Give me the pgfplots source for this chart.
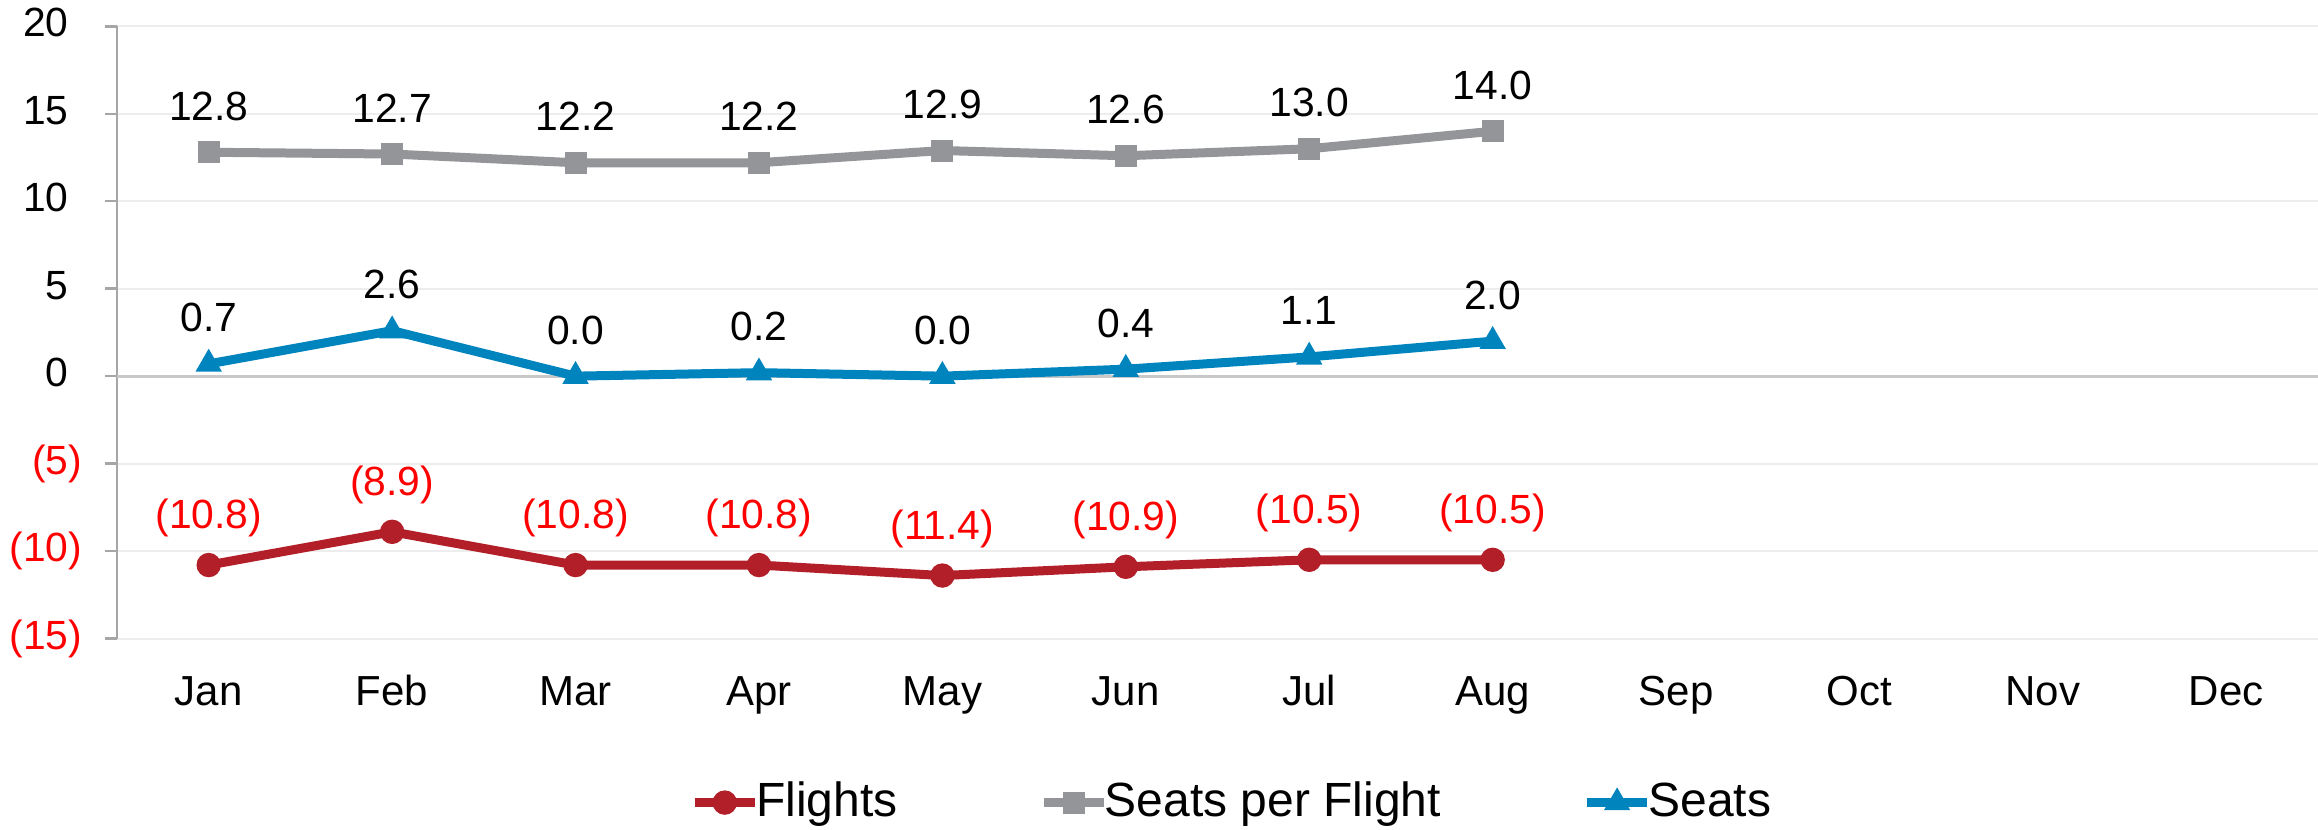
\documentclass[border=0pt]{standalone}
\usepackage{fontspec}
\setmainfont{Liberation Sans}
\usepackage{pgfplots}
\pgfplotsset{compat=1.18}
\definecolor{fl}{HTML}{B21F28}
\definecolor{spf}{HTML}{939598}
\definecolor{st}{HTML}{0084BE}
\definecolor{gridc}{HTML}{EDEDED}
\definecolor{zeroc}{HTML}{C8C8C8}
\definecolor{axc}{HTML}{A6A6A6}
\begin{document}
\begin{tikzpicture}
\useasboundingbox (-29.25pt,-47.625pt) rectangle (550.25pt,159.625pt);
\begin{axis}[
  at={(0pt,0pt)}, anchor=south west,
  scale only axis, width=550.25pt, height=153.05pt,
  xmin=-0.5, xmax=11.5, ymin=-15, ymax=20,
  xtick={0,1,2,3,4,5,6,7,8,9,10,11},
  xticklabels={Jan,Feb,Mar,Apr,May,Jun,Jul,Aug,Sep,Oct,Nov,Dec},
  ytick={-15,-10,-5,0,5,10,15,20},
  yticklabels={\textcolor{red}{(15)},\textcolor{red}{(10)},\textcolor{red}{(5)},0\phantom{)},5\phantom{)},10\phantom{)},15\phantom{)},20\phantom{)}},
  axis x line*=bottom, axis y line*=left,
  axis line style={-},
  x axis line style={draw=none},
  y axis line style={draw=axc, line width=0.6pt},
  ymajorgrids, grid style={draw=gridc, line width=0.5pt},
  tick align=outside, major tick length=3pt,
  ytick style={draw=axc, line width=0.6pt},
  xtick style={draw=none},
  yticklabel style={font=\fontsize{10.2}{12}\selectfont, inner sep=0pt, anchor=east, xshift=-5.5pt},
  xticklabel style={font=\fontsize{10.5}{12}\selectfont, inner sep=0pt, anchor=north, yshift=-5.9pt, text height=7.6pt, text depth=0pt},
  extra y ticks={0}, extra y tick labels={},
  extra y tick style={grid style={draw=zeroc, line width=0.8pt}},
  clip=false,
  legend columns=3,
  legend style={at={(0.506,-0.268)}, anchor=center, draw=none, fill=none,
    font=\fontsize{12}{14}\selectfont,
    /tikz/every even column/.append style={column sep=35.4pt},
    /tikz/every odd column/.append style={column sep=-0.8pt},
    nodes={inner xsep=0pt, inner ysep=0pt}},
  legend image code/.code={\draw[#1, mark repeat=2, mark phase=2] plot coordinates {(0pt,0pt) (7.5pt,0pt) (15pt,0pt)};},
  every node near coord/.style={anchor=base, yshift=8pt, inner sep=0pt, font=\fontsize{10.2}{12}\selectfont, text=black},
]
\addplot[color=fl, line width=2.25pt, mark=*, mark size=2.8pt, mark options={line width=0.5pt},
  nodes near coords, point meta=explicit symbolic,
  every node near coord/.append style={text=red, yshift=1.1pt}]
  coordinates {(0,-10.8) [(10.8)] (1,-8.9) [(8.9)] (2,-10.8) [(10.8)] (3,-10.8) [(10.8)]
               (4,-11.4) [(11.4)] (5,-10.9) [(10.9)] (6,-10.5) [(10.5)] (7,-10.5) [(10.5)]};
\addlegendentry{Flights}
\addplot[color=spf, line width=2.25pt, mark=square*, mark size=2.5pt, mark options={line width=0.5pt},
  nodes near coords, point meta=explicit symbolic]
  coordinates {(0,12.8) [12.8] (1,12.7) [12.7] (2,12.2) [12.2] (3,12.2) [12.2]
               (4,12.9) [12.9] (5,12.6) [12.6] (6,13.0) [13.0] (7,14.0) [14.0]};
\addlegendentry{Seats per Flight}
\addplot[color=st, line width=2.25pt, mark=triangle*, mark size=3.3pt, mark options={line width=0.5pt},
  nodes near coords, point meta=explicit symbolic]
  coordinates {(0,0.7) [0.7] (1,2.6) [2.6] (2,0.0) [0.0] (3,0.2) [0.2]
               (4,0.0) [0.0] (5,0.4) [0.4] (6,1.1) [1.1] (7,2.0) [2.0]};
\addlegendentry{Seats}
\end{axis}
\end{tikzpicture}
\end{document}
